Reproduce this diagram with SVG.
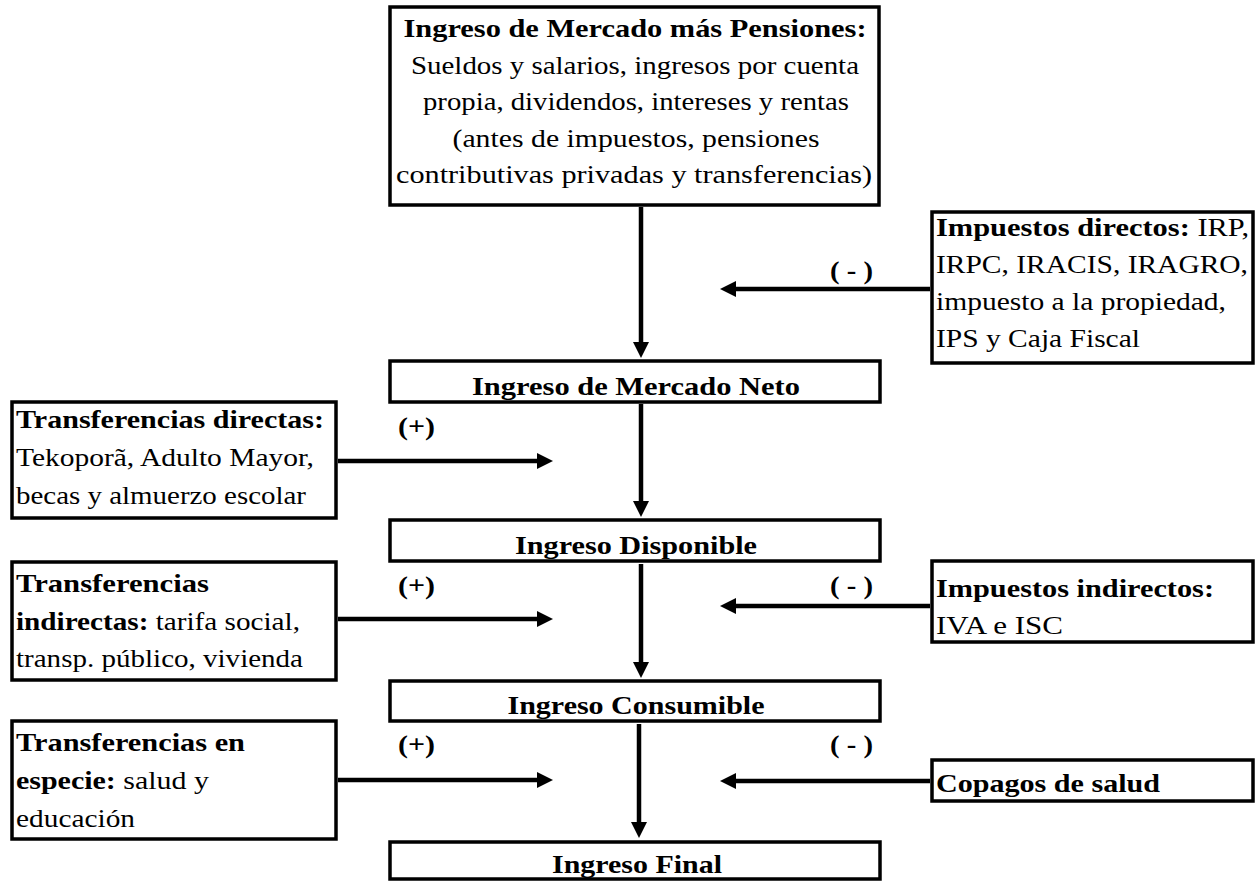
<svg xmlns="http://www.w3.org/2000/svg" width="1256" height="881" viewBox="0 0 1256 881">
<defs>
<marker id="ah" viewBox="0 0 16 16" markerWidth="16" markerHeight="16" refX="1" refY="8" orient="auto" markerUnits="userSpaceOnUse"><path d="M0,0 L16,8 L0,16 z" fill="#000"/></marker>
<style>
.box{fill:#fff;stroke:#000;stroke-width:3.5}
text{font-family:"Liberation Serif","Times New Roman",serif;font-size:26px;fill:#000}
.b{font-weight:bold}
.c{text-anchor:middle}
.conn line{stroke:#000;stroke-width:4.5;marker-end:url(#ah)}
</style>
</defs>
<rect width="1256" height="881" fill="#fff"/>
<g class="conn" id="connectors">
<line x1="641" y1="207" x2="641" y2="343"/>
<line x1="641" y1="404" x2="641" y2="502"/>
<line x1="641" y1="564" x2="641" y2="663"/>
<line x1="639" y1="724" x2="639" y2="823"/>
<line x1="338" y1="461" x2="538" y2="461"/>
<line x1="338" y1="619" x2="538" y2="619"/>
<line x1="338" y1="780" x2="538" y2="780"/>
<line x1="930" y1="289" x2="735" y2="289"/>
<line x1="930" y1="606" x2="735" y2="606"/>
<line x1="930" y1="781" x2="735" y2="781"/>
</g>
<g id="labels">
<text class="b" x="398" y="435" textLength="37" lengthAdjust="spacingAndGlyphs">(+)</text>
<text class="b" x="398" y="594" textLength="37" lengthAdjust="spacingAndGlyphs">(+)</text>
<text class="b" x="398" y="753" textLength="37" lengthAdjust="spacingAndGlyphs">(+)</text>
<text class="b" x="830" y="279" textLength="43" lengthAdjust="spacingAndGlyphs">( - )</text>
<text class="b" x="830" y="594" textLength="43" lengthAdjust="spacingAndGlyphs">( - )</text>
<text class="b" x="830" y="753" textLength="43" lengthAdjust="spacingAndGlyphs">( - )</text>
</g>
<g id="ingreso-mercado-pensiones">
<rect class="box" x="390" y="7" width="489" height="198"/>
<text class="b c" x="635" y="37" textLength="463" lengthAdjust="spacingAndGlyphs">Ingreso de Mercado más Pensiones:</text>
<text class="c" x="635" y="74" textLength="448" lengthAdjust="spacingAndGlyphs">Sueldos y salarios, ingresos por cuenta</text>
<text class="c" x="636" y="110" textLength="426" lengthAdjust="spacingAndGlyphs">propia, dividendos, intereses y rentas</text>
<text class="c" x="636" y="147" textLength="367" lengthAdjust="spacingAndGlyphs">(antes de impuestos, pensiones</text>
<text class="c" x="634" y="183" textLength="476" lengthAdjust="spacingAndGlyphs">contributivas privadas y transferencias)</text>
</g>
<g id="impuestos-directos">
<rect class="box" x="932" y="212" width="321" height="151"/>
<text x="936" y="236" textLength="313" lengthAdjust="spacingAndGlyphs"><tspan class="b">Impuestos directos:</tspan> IRP,</text>
<text x="936" y="273" textLength="312" lengthAdjust="spacingAndGlyphs">IRPC, IRACIS, IRAGRO,</text>
<text x="936" y="310" textLength="290" lengthAdjust="spacingAndGlyphs">impuesto a la propiedad,</text>
<text x="936" y="347" textLength="204" lengthAdjust="spacingAndGlyphs">IPS y Caja Fiscal</text>
</g>
<g id="ingreso-mercado-neto">
<rect class="box" x="390" y="361" width="490" height="41"/>
<text class="b c" x="636" y="395" textLength="328" lengthAdjust="spacingAndGlyphs">Ingreso de Mercado Neto</text>
</g>
<g id="transferencias-directas">
<rect class="box" x="12" y="402" width="324" height="116"/>
<text class="b" x="16" y="428" textLength="308" lengthAdjust="spacingAndGlyphs">Transferencias directas:</text>
<text x="16" y="466" textLength="298" lengthAdjust="spacingAndGlyphs">Tekoporã, Adulto Mayor,</text>
<text x="16" y="504" textLength="290" lengthAdjust="spacingAndGlyphs">becas y almuerzo escolar</text>
</g>
<g id="ingreso-disponible">
<rect class="box" x="390" y="520" width="490" height="41"/>
<text class="b c" x="636" y="554" textLength="242" lengthAdjust="spacingAndGlyphs">Ingreso Disponible</text>
</g>
<g id="transferencias-indirectas">
<rect class="box" x="12" y="562" width="324" height="118"/>
<text class="b" x="16" y="592" textLength="193" lengthAdjust="spacingAndGlyphs">Transferencias</text>
<text x="16" y="630" textLength="284" lengthAdjust="spacingAndGlyphs"><tspan class="b">indirectas:</tspan> tarifa social,</text>
<text x="16" y="667" textLength="287" lengthAdjust="spacingAndGlyphs">transp. público, vivienda</text>
</g>
<g id="impuestos-indirectos">
<rect class="box" x="932" y="561" width="321" height="81"/>
<text class="b" x="936" y="597" textLength="278" lengthAdjust="spacingAndGlyphs">Impuestos indirectos:</text>
<text x="936" y="634" textLength="127" lengthAdjust="spacingAndGlyphs">IVA e ISC</text>
</g>
<g id="ingreso-consumible">
<rect class="box" x="390" y="681" width="490" height="40"/>
<text class="b c" x="636" y="714" textLength="257" lengthAdjust="spacingAndGlyphs">Ingreso Consumible</text>
</g>
<g id="transferencias-especie">
<rect class="box" x="12" y="721" width="324" height="118"/>
<text class="b" x="16" y="751" textLength="229" lengthAdjust="spacingAndGlyphs">Transferencias en</text>
<text x="16" y="789" textLength="193" lengthAdjust="spacingAndGlyphs"><tspan class="b">especie:</tspan> salud y</text>
<text x="16" y="827" textLength="119" lengthAdjust="spacingAndGlyphs">educación</text>
</g>
<g id="copagos-salud">
<rect class="box" x="932" y="760" width="321" height="41"/>
<text class="b" x="936" y="792" textLength="224" lengthAdjust="spacingAndGlyphs">Copagos de salud</text>
</g>
<g id="ingreso-final">
<rect class="box" x="390" y="842" width="490" height="37"/>
<text class="b c" x="637" y="873" textLength="170" lengthAdjust="spacingAndGlyphs">Ingreso Final</text>
</g>
</svg>
